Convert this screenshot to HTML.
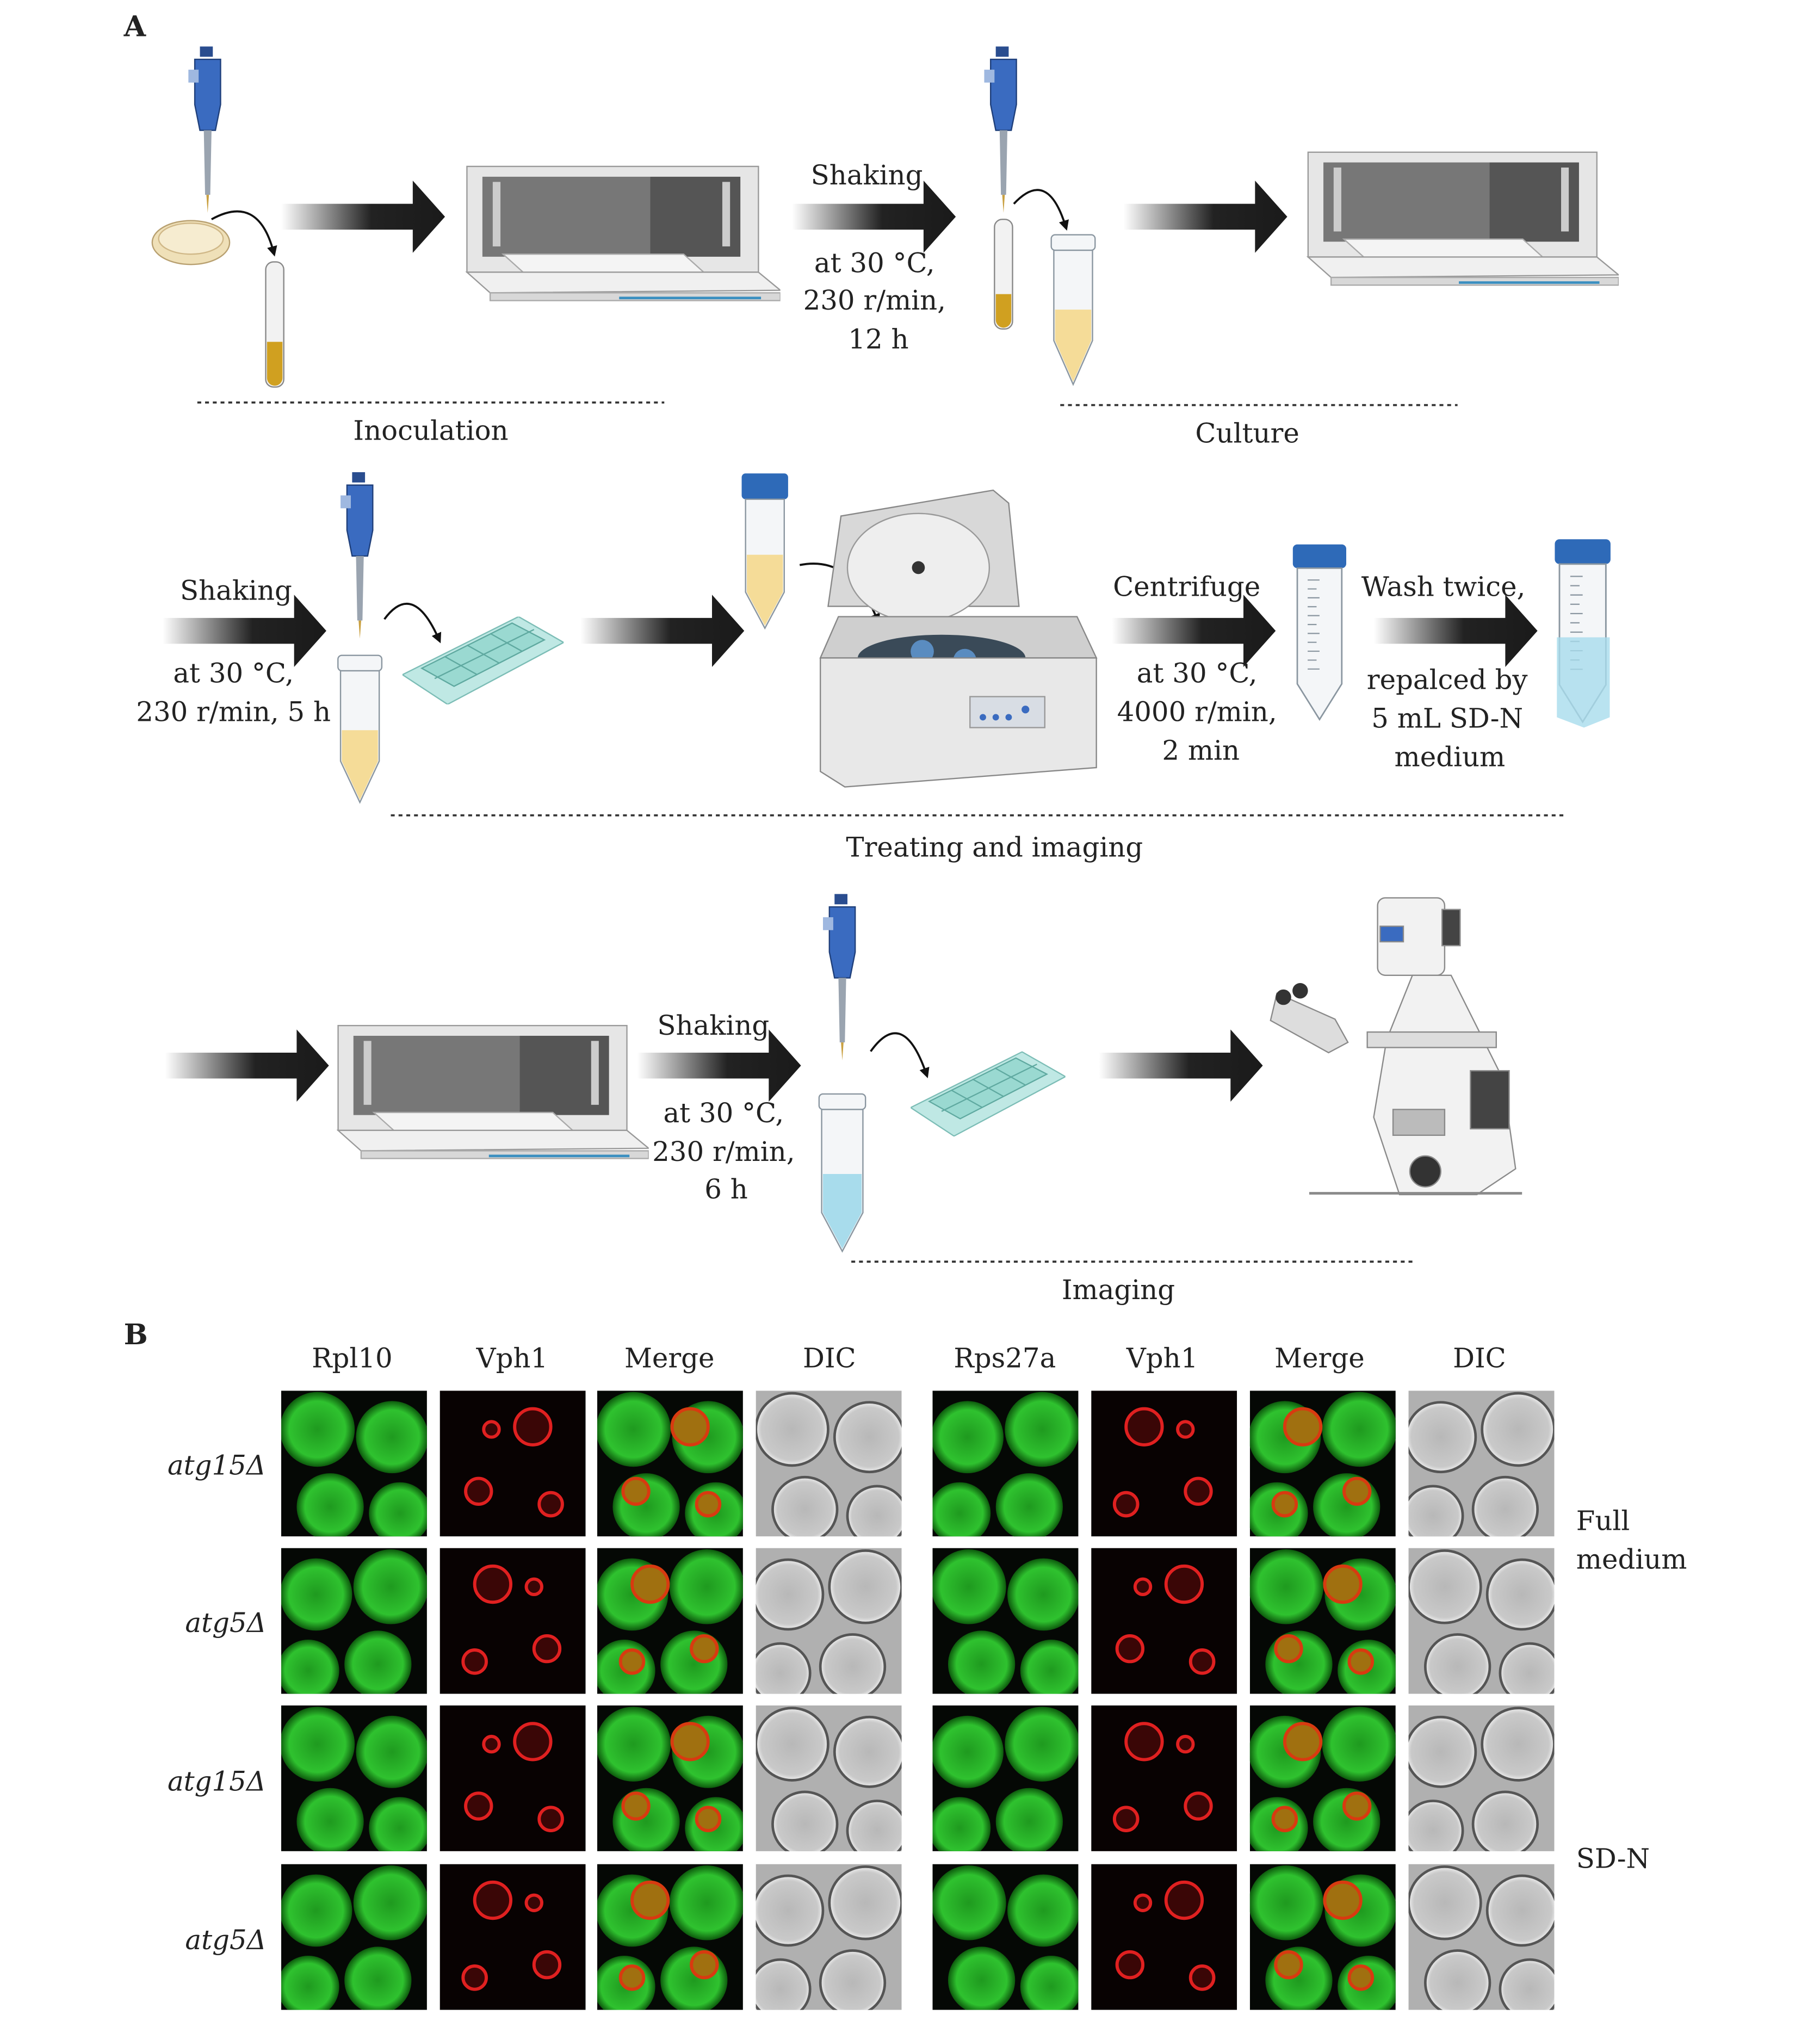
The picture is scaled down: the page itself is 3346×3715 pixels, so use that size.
<!DOCTYPE html>
<html><head><meta charset="utf-8"><style>
html,body{margin:0;padding:0;background:#fff}
svg{display:block}
text{font-family:"DejaVu Serif","Liberation Serif",serif;font-size:21px;fill:#222}
</style></head><body>
<svg width="3346" height="3715" viewBox="0 0 1411 1566.6" xmlns="http://www.w3.org/2000/svg">
<defs>
<linearGradient id="ag" x1="0" y1="0" x2="1" y2="0"><stop offset="0" stop-color="#fff"/><stop offset="0.55" stop-color="#222"/><stop offset="1" stop-color="#1a1a1a"/></linearGradient>
<radialGradient id="gc"><stop offset="0" stop-color="#1f9a1f"/><stop offset="0.75" stop-color="#2fc22f"/><stop offset="1" stop-color="#0d5a0d"/></radialGradient>
<radialGradient id="dc"><stop offset="0" stop-color="#b8b8b8"/><stop offset="0.85" stop-color="#c9c9c9"/><stop offset="1" stop-color="#eee"/></radialGradient>
<marker id="mh" viewBox="0 0 10 10" refX="5" refY="5" markerWidth="5" markerHeight="5" orient="auto"><path d="M0,0L10,5L0,10z" fill="#111"/></marker>
<symbol id="inc" viewBox="0 0 245 108">
<rect x="2" y="2" width="226" height="82" fill="#e6e6e6" stroke="#9a9a9a"/>
<rect x="14" y="10" width="130" height="62" fill="#777"/>
<rect x="144" y="10" width="70" height="62" fill="#555"/>
<rect x="22" y="14" width="6" height="50" fill="#ccc"/><rect x="200" y="14" width="6" height="50" fill="#ccc"/>
<path d="M30 70L170 70L190 88L50 88z" fill="#f4f4f4" stroke="#aaa"/>
<path d="M2 84L228 84L245 98L20 100z" fill="#f0f0f0" stroke="#999"/>
<rect x="20" y="100" width="225" height="6" fill="#d8d8d8" stroke="#aaa"/>
<path d="M120 104L230 104" stroke="#3a8fc0" stroke-width="2"/>
</symbol>
<symbol id="pip" viewBox="0 0 30 130">
<rect x="9" y="0" width="10" height="8" fill="#2a4d8f"/>
<path d="M5 10h20v35l-4 20h-12l-4-20z" fill="#3a6bc0" stroke="#1f3f7a"/>
<rect x="0" y="18" width="8" height="10" fill="#9fb8e0"/>
<path d="M12 65h6l-1 50h-4z" fill="#9aa4b0"/>
<path d="M14 115h2l-1 14z" fill="#c9a040"/>
</symbol>
<symbol id="ctube" viewBox="0 0 40 120">
<rect x="2" y="0" width="36" height="16" rx="3" fill="#2e6ab8"/>
<path d="M5 16h30v78l-15 24l-15-24z" fill="#f4f6f8" stroke="#8a96a0"/>
<g stroke="#8a96a0" stroke-width="0.8"><path d="M12 24h8M12 30h6M12 36h8M12 42h6M12 48h8M12 54h6M12 60h8M12 66h6M12 72h8M12 78h6M12 84h8"/></g>
</symbol>
<symbol id="slide" viewBox="0 0 125 68">
<path d="M0 45L90 0L125 20L35 68z" fill="#bfe8e4" stroke="#7cbdb6"/>
<path d="M15 40L85 5L110 18L40 54z" fill="#9ad9d1" stroke="#5fa9a0"/>
<g stroke="#5fa9a0"><path d="M33 31L58 45M50 22L75 36M68 13L93 27M25 48L102 10"/></g>
</symbol>
<symbol id="sg" viewBox="0 0 113 113"><rect width="113" height="113" fill="#050805"/>
<circle cx="28" cy="30" r="29" fill="url(#gc)"/><circle cx="86" cy="36" r="28" fill="url(#gc)"/><circle cx="38" cy="90" r="26" fill="url(#gc)"/><circle cx="92" cy="95" r="24" fill="url(#gc)"/></symbol>
<symbol id="sr" viewBox="0 0 113 113"><rect width="113" height="113" fill="#080202"/>
<g fill="#3a0606" stroke="#e02020" stroke-width="2.5"><circle cx="72" cy="28" r="14"/><circle cx="30" cy="78" r="10"/><circle cx="86" cy="88" r="9"/><circle cx="40" cy="30" r="6"/></g></symbol>
<symbol id="sm" viewBox="0 0 113 113"><rect width="113" height="113" fill="#050805"/>
<circle cx="28" cy="30" r="29" fill="url(#gc)"/><circle cx="86" cy="36" r="28" fill="url(#gc)"/><circle cx="38" cy="90" r="26" fill="url(#gc)"/><circle cx="92" cy="95" r="24" fill="url(#gc)"/>
<g fill="#a07010" stroke="#d83a10" stroke-width="2.5"><circle cx="72" cy="28" r="14"/><circle cx="30" cy="78" r="10"/><circle cx="86" cy="88" r="9"/></g></symbol>
<symbol id="sd" viewBox="0 0 113 113"><rect width="113" height="113" fill="#b0b0b0"/>
<g fill="url(#dc)" stroke="#555" stroke-width="2"><circle cx="28" cy="30" r="28"/><circle cx="88" cy="36" r="27"/><circle cx="38" cy="92" r="25"/><circle cx="94" cy="97" r="23"/></g></symbol>
</defs>

<text x="96" y="28" style="font-weight:bold;font-size:22px">A</text>
<text x="96" y="1042" style="font-weight:bold;font-size:22px">B</text>

<g fill="url(#ag)">
<path d="M218 158h102v-18l25 28l-25 28v-18h-102z"/>
<path d="M614 158h102v-18l25 28l-25 28v-18h-102z"/>
<path d="M871 158h102v-18l25 28l-25 28v-18h-102z"/>
<path d="M126 479h102v-18l25 28l-25 28v-18h-102z"/>
<path d="M450 479h102v-18l25 28l-25 28v-18h-102z"/>
<path d="M862 479h102v-18l25 28l-25 28v-18h-102z"/>
<path d="M1065 479h102v-18l25 28l-25 28v-18h-102z"/>
<path d="M128 816h102v-18l25 28l-25 28v-18h-102z"/>
<path d="M494 816h102v-18l25 28l-25 28v-18h-102z"/>
<path d="M852 816h102v-18l25 28l-25 28v-18h-102z"/>
</g>

<g text-anchor="middle">
<text x="672" y="143">Shaking</text><text x="678" y="211">at 30 °C,</text><text x="678" y="240">230 r/min,</text><text x="681" y="270">12 h</text>
<text x="183" y="465">Shaking</text><text x="181" y="529">at 30 °C,</text><text x="181" y="559">230 r/min, 5 h</text>
<text x="920" y="462">Centrifuge</text><text x="928" y="529">at 30 °C,</text><text x="928" y="559">4000 r/min,</text><text x="931" y="589">2 min</text>
<text x="1119" y="462">Wash twice,</text><text x="1122" y="534">repalced by</text><text x="1122" y="564">5 mL SD-N</text><text x="1124" y="594">medium</text>
<text x="553" y="802">Shaking</text><text x="561" y="870">at 30 °C,</text><text x="561" y="900">230 r/min,</text><text x="563" y="929">6 h</text>
<text x="334" y="341">Inoculation</text><text x="967" y="343">Culture</text><text x="771" y="664">Treating and imaging</text><text x="867" y="1007">Imaging</text>
<text x="273" y="1060">Rpl10</text><text x="397" y="1060">Vph1</text><text x="519" y="1060">Merge</text><text x="643" y="1060">DIC</text>
<text x="779" y="1060">Rps27a</text><text x="901" y="1060">Vph1</text><text x="1023" y="1060">Merge</text><text x="1147" y="1060">DIC</text>
<text x="168" y="1143" style="font-style:italic">atg15Δ</text><text x="175" y="1265" style="font-style:italic">atg5Δ</text>
<text x="168" y="1388" style="font-style:italic">atg15Δ</text><text x="175" y="1511" style="font-style:italic">atg5Δ</text>
</g>
<text x="1222" y="1186">Full</text><text x="1222" y="1216">medium</text><text x="1222" y="1448">SD-N</text>

<g stroke="#333" stroke-width="1.6" stroke-dasharray="3,3">
<path d="M153 312H515M822 314H1130M303 632H1215M660 978H1095"/>
</g>

<use href="#pip" x="146" y="36" width="30" height="130"/>
<ellipse cx="148" cy="188" rx="30" ry="17" fill="#efe0b8" stroke="#b8a070"/>
<ellipse cx="148" cy="185" rx="25" ry="12" fill="#f6ecd0" stroke="#d0b888"/>
<path d="M164 170 Q200 150 212 195" fill="none" stroke="#111" stroke-width="1.6" marker-end="url(#mh)"/>
<rect x="206" y="203" width="14" height="97" rx="6" fill="#f2f2f2" stroke="#888"/>
<path d="M207 265h12v28a6 6 0 0 1-12 0z" fill="#d0a020"/>
<use href="#inc" x="360" y="127" width="245" height="108"/>
<use href="#pip" x="763" y="36" width="30" height="130"/>
<rect x="771" y="170" width="14" height="85" rx="6" fill="#f2f2f2" stroke="#888"/>
<path d="M772 228h12v20a6 6 0 0 1-12 0z" fill="#d0a020"/>
<path d="M786 158 Q812 130 826 175" fill="none" stroke="#111" stroke-width="1.6" marker-end="url(#mh)"/>
<rect x="815" y="182" width="34" height="12" rx="3" fill="#f4f6f8" stroke="#8a96a0"/>
<path d="M817 194h30v70l-15 34l-15-34z" fill="#f4f6f8" stroke="#8a96a0"/>
<path d="M818 240h28v24l-14 32l-14-32z" fill="#f5dc98"/>
<use href="#inc" x="1012" y="116" width="243" height="107"/>

<use href="#pip" x="264" y="366" width="30" height="130"/>
<path d="M298 480 Q320 450 340 495" fill="none" stroke="#111" stroke-width="1.6" marker-end="url(#mh)"/>
<rect x="262" y="508" width="34" height="12" rx="3" fill="#f4f6f8" stroke="#8a96a0"/>
<path d="M264 520h30v70l-15 32l-15-32z" fill="#f4f6f8" stroke="#8a96a0"/>
<path d="M265 566h28v24l-14 30l-14-30z" fill="#f5dc98"/>
<use href="#slide" x="312" y="478" width="125" height="68"/>
<rect x="575" y="367" width="36" height="20" rx="3" fill="#2e6ab8"/>
<path d="M578 387h30v72l-15 28l-15-28z" fill="#f4f6f8" stroke="#8a96a0"/>
<path d="M579 430h28v29l-14 26l-14-26z" fill="#f5dc98"/>
<path d="M620 438 Q660 430 680 480" fill="none" stroke="#111" stroke-width="1.6" marker-end="url(#mh)"/>
<path d="M642 470L652 400L770 380L782 390L790 470z" fill="#d8d8d8" stroke="#888"/>
<ellipse cx="712" cy="440" rx="55" ry="42" fill="#eee" stroke="#999"/><circle cx="712" cy="440" r="5" fill="#333"/>
<path d="M636 510L650 478L835 478L850 510z" fill="#cfcfcf" stroke="#888"/>
<ellipse cx="730" cy="510" rx="65" ry="18" fill="#3a4a58"/>
<circle cx="715" cy="505" r="9" fill="#5a8cc0"/><circle cx="748" cy="512" r="9" fill="#5a8cc0"/><circle cx="700" cy="517" r="7" fill="#5a8cc0"/>
<path d="M636 510L850 510L850 595L655 610L636 598z" fill="#e8e8e8" stroke="#888"/>
<rect x="752" y="540" width="58" height="24" fill="#d8dde4" stroke="#999"/>
<g fill="#3a6bc0"><circle cx="762" cy="556" r="2.5"/><circle cx="772" cy="556" r="2.5"/><circle cx="782" cy="556" r="2.5"/><circle cx="795" cy="550" r="3"/></g>
<use href="#ctube" x="1000" y="418" width="46" height="146"/>
<use href="#ctube" x="1203" y="414" width="48" height="152"/>
<path d="M1207 494h41v62l-20 8l-21-8z" fill="#a8dcec" opacity="0.8"/>

<use href="#inc" x="260" y="793" width="243" height="107"/>
<use href="#pip" x="638" y="684" width="30" height="148"/>
<path d="M675 815 Q700 780 718 832" fill="none" stroke="#111" stroke-width="1.6" marker-end="url(#mh)"/>
<rect x="635" y="848" width="36" height="12" rx="3" fill="#f4f6f8" stroke="#8a96a0"/>
<path d="M637 860h32v80l-16 30l-16-30z" fill="#f4f6f8" stroke="#8a96a0"/>
<path d="M638 910h30v30l-15 28l-15-28z" fill="#a8dcec"/>
<use href="#slide" x="706" y="815" width="120" height="66"/>
<g stroke="#8a8a8a" fill="#f2f2f2">
<rect x="1068" y="696" width="52" height="60" rx="6"/>
<rect x="1118" y="705" width="14" height="28" fill="#444"/>
<rect x="1070" y="718" width="18" height="12" fill="#3a6bc0"/>
<path d="M1095 756h30l40 80l10 70l-30 20l-60 0l-20-60l10-60z"/>
<rect x="1060" y="800" width="100" height="12" fill="#ddd"/>
<path d="M990 770l45 20l10 18l-15 8l-45-25z" fill="#ddd"/>
<path d="M1015 925h165" stroke-width="2"/>
<circle cx="1105" cy="908" r="12" fill="#333"/>
<rect x="1140" y="830" width="30" height="45" fill="#444"/>
<rect x="1080" y="860" width="40" height="20" fill="#bbb"/>
</g>
<g fill="#333"><circle cx="995" cy="773" r="6"/><circle cx="1008" cy="768" r="6"/></g>

<use href="#sg" x="218" y="1078" width="113" height="113"/>
<use href="#sr" x="341" y="1078" width="113" height="113"/>
<use href="#sm" x="463" y="1078" width="113" height="113"/>
<use href="#sd" x="586" y="1078" width="113" height="113"/>
<use href="#sg" x="723" y="1078" width="113" height="113" transform="translate(1559 0) scale(-1 1)"/>
<use href="#sr" x="846" y="1078" width="113" height="113" transform="translate(1805 0) scale(-1 1)"/>
<use href="#sm" x="969" y="1078" width="113" height="113" transform="translate(2051 0) scale(-1 1)"/>
<use href="#sd" x="1092" y="1078" width="113" height="113" transform="translate(2297 0) scale(-1 1)"/>

<use href="#sg" x="218" y="1200" width="113" height="113" transform="translate(549 0) scale(-1 1)"/>
<use href="#sr" x="341" y="1200" width="113" height="113" transform="translate(795 0) scale(-1 1)"/>
<use href="#sm" x="463" y="1200" width="113" height="113" transform="translate(1039 0) scale(-1 1)"/>
<use href="#sd" x="586" y="1200" width="113" height="113" transform="translate(1285 0) scale(-1 1)"/>
<use href="#sg" x="723" y="1200" width="113" height="113"/>
<use href="#sr" x="846" y="1200" width="113" height="113"/>
<use href="#sm" x="969" y="1200" width="113" height="113"/>
<use href="#sd" x="1092" y="1200" width="113" height="113"/>

<use href="#sg" x="218" y="1322" width="113" height="113"/>
<use href="#sr" x="341" y="1322" width="113" height="113"/>
<use href="#sm" x="463" y="1322" width="113" height="113"/>
<use href="#sd" x="586" y="1322" width="113" height="113"/>
<use href="#sg" x="723" y="1322" width="113" height="113" transform="translate(1559 0) scale(-1 1)"/>
<use href="#sr" x="846" y="1322" width="113" height="113" transform="translate(1805 0) scale(-1 1)"/>
<use href="#sm" x="969" y="1322" width="113" height="113" transform="translate(2051 0) scale(-1 1)"/>
<use href="#sd" x="1092" y="1322" width="113" height="113" transform="translate(2297 0) scale(-1 1)"/>

<use href="#sg" x="218" y="1445" width="113" height="113" transform="translate(549 0) scale(-1 1)"/>
<use href="#sr" x="341" y="1445" width="113" height="113" transform="translate(795 0) scale(-1 1)"/>
<use href="#sm" x="463" y="1445" width="113" height="113" transform="translate(1039 0) scale(-1 1)"/>
<use href="#sd" x="586" y="1445" width="113" height="113" transform="translate(1285 0) scale(-1 1)"/>
<use href="#sg" x="723" y="1445" width="113" height="113"/>
<use href="#sr" x="846" y="1445" width="113" height="113"/>
<use href="#sm" x="969" y="1445" width="113" height="113"/>
<use href="#sd" x="1092" y="1445" width="113" height="113"/>
</svg>
</body></html>
